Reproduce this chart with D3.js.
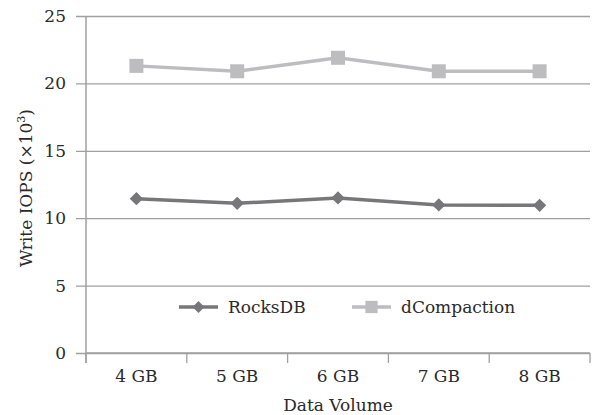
<!DOCTYPE html>
<html>
<head>
<meta charset="utf-8">
<script src="https://cdn.jsdelivr.net/npm/d3@7"></script>
<style>
  body { margin: 0; background: #fff; }
  text { font-family: "DejaVu Serif", "Liberation Serif", serif; fill: #2a2a2a; }
</style>
</head>
<body>
<div id="chart"></div>
<script>
// data
var categories = ["4 GB", "5 GB", "6 GB", "7 GB", "8 GB"];
var rocksdb = [11.45, 11.1, 11.5, 10.98, 10.96];
var dcompaction = [21.3, 20.9, 21.9, 20.9, 20.9];
var yTicks = [0, 5, 10, 15, 20, 25];

var width = 592, height = 415;
var margin = {top: 16, right: 2, bottom: 62, left: 86};
var w = width - margin.left - margin.right,
    h = height - margin.top - margin.bottom;

var svg = d3.select("#chart").append("svg")
    .attr("width", width)
    .attr("height", height);
var g = svg.append("g")
    .attr("transform", "translate(" + margin.left + "," + margin.top + ")");

var x = d3.scaleBand().domain(categories).range([0, w]);
var y = d3.scaleLinear().domain([0, 25]).range([h, 0]);

// gridlines + y ticks
g.append("g")
  .call(d3.axisLeft(y).tickValues(yTicks).tickSize(-w))
  .call(function(a) {
    a.select(".domain").remove();
    a.selectAll(".tick line").attr("stroke", "#a0a0a0").attr("stroke-width", 1.3).attr("x1", -10);
    a.selectAll(".tick text").attr("x", -20).style("font-size", "17px").attr("fill", "#2a2a2a");
  });

// y axis line
g.append("line")
  .attr("x1", 0).attr("x2", 0).attr("y1", 0).attr("y2", h + 10)
  .attr("stroke", "#a0a0a0").attr("stroke-width", 1.5);

// x axis
var xa = g.append("g").attr("transform", "translate(0," + h + ")");
xa.append("line").attr("x1", 0).attr("x2", w).attr("stroke", "#a0a0a0").attr("stroke-width", 1.5);
var bounds = categories.map(function(c) { return x(c); }).concat([w]);
xa.selectAll(".xt").data(bounds).enter().append("line")
  .attr("x1", function(d) { return d; }).attr("x2", function(d) { return d; })
  .attr("y1", 0).attr("y2", 10)
  .attr("stroke", "#a0a0a0").attr("stroke-width", 1.3);
xa.selectAll(".xl").data(categories).enter().append("text")
  .attr("x", function(d) { return x(d) + x.bandwidth() / 2; })
  .attr("y", 29)
  .attr("text-anchor", "middle")
  .style("font-size", "17px")
  .text(function(d) { return d; });

// axis titles
g.append("text")
  .attr("x", w / 2).attr("y", h + 58)
  .attr("text-anchor", "middle")
  .style("font-size", "17px")
  .text("Data Volume");

var yt = svg.append("text")
  .attr("transform", "translate(32,188) rotate(-90)")
  .attr("text-anchor", "middle")
  .style("font-size", "17px");
yt.append("tspan").text("Write IOPS (\u00d710");
yt.append("tspan").attr("dy", -7).style("font-size", "11px").text("3");
yt.append("tspan").attr("dy", 7).text(")");

var cx = function(d, i) { return x(categories[i]) + x.bandwidth() / 2; };
var line = d3.line().x(cx).y(function(d) { return y(d); });

// diamond = square turned 45 degrees
var series = [
  {name: "RocksDB", values: rocksdb, color: "#77777a", size: 88, rot: 45},
  {name: "dCompaction", values: dcompaction, color: "#bdbdbf", size: 196, rot: 0}
];

series.forEach(function(s) {
  g.append("path")
    .datum(s.values)
    .attr("d", line)
    .attr("fill", "none")
    .attr("stroke", s.color)
    .attr("stroke-width", 3.5);
  g.selectAll(null).data(s.values).enter().append("path")
    .attr("d", d3.symbol().type(d3.symbolSquare).size(s.size))
    .attr("transform", function(d, i) { return "translate(" + cx(d, i) + "," + y(d) + ") rotate(" + s.rot + ")"; })
    .attr("fill", s.color);
});

// legend
var legend = [
  {s: series[0], x0: 179, tx: 228, size: 70},
  {s: series[1], x0: 352, tx: 401, size: 150}
];
var ly = 307;
legend.forEach(function(l) {
  svg.append("line")
    .attr("x1", l.x0).attr("x2", l.x0 + 39).attr("y1", ly).attr("y2", ly)
    .attr("stroke", l.s.color).attr("stroke-width", 3.5);
  svg.append("path")
    .attr("d", d3.symbol().type(d3.symbolSquare).size(l.size))
    .attr("transform", "translate(" + (l.x0 + 19.5) + "," + ly + ") rotate(" + l.s.rot + ")")
    .attr("fill", l.s.color);
  svg.append("text")
    .attr("x", l.tx).attr("y", ly + 6)
    .style("font-size", "17px")
    .text(l.s.name);
});
</script>
</body>
</html>
